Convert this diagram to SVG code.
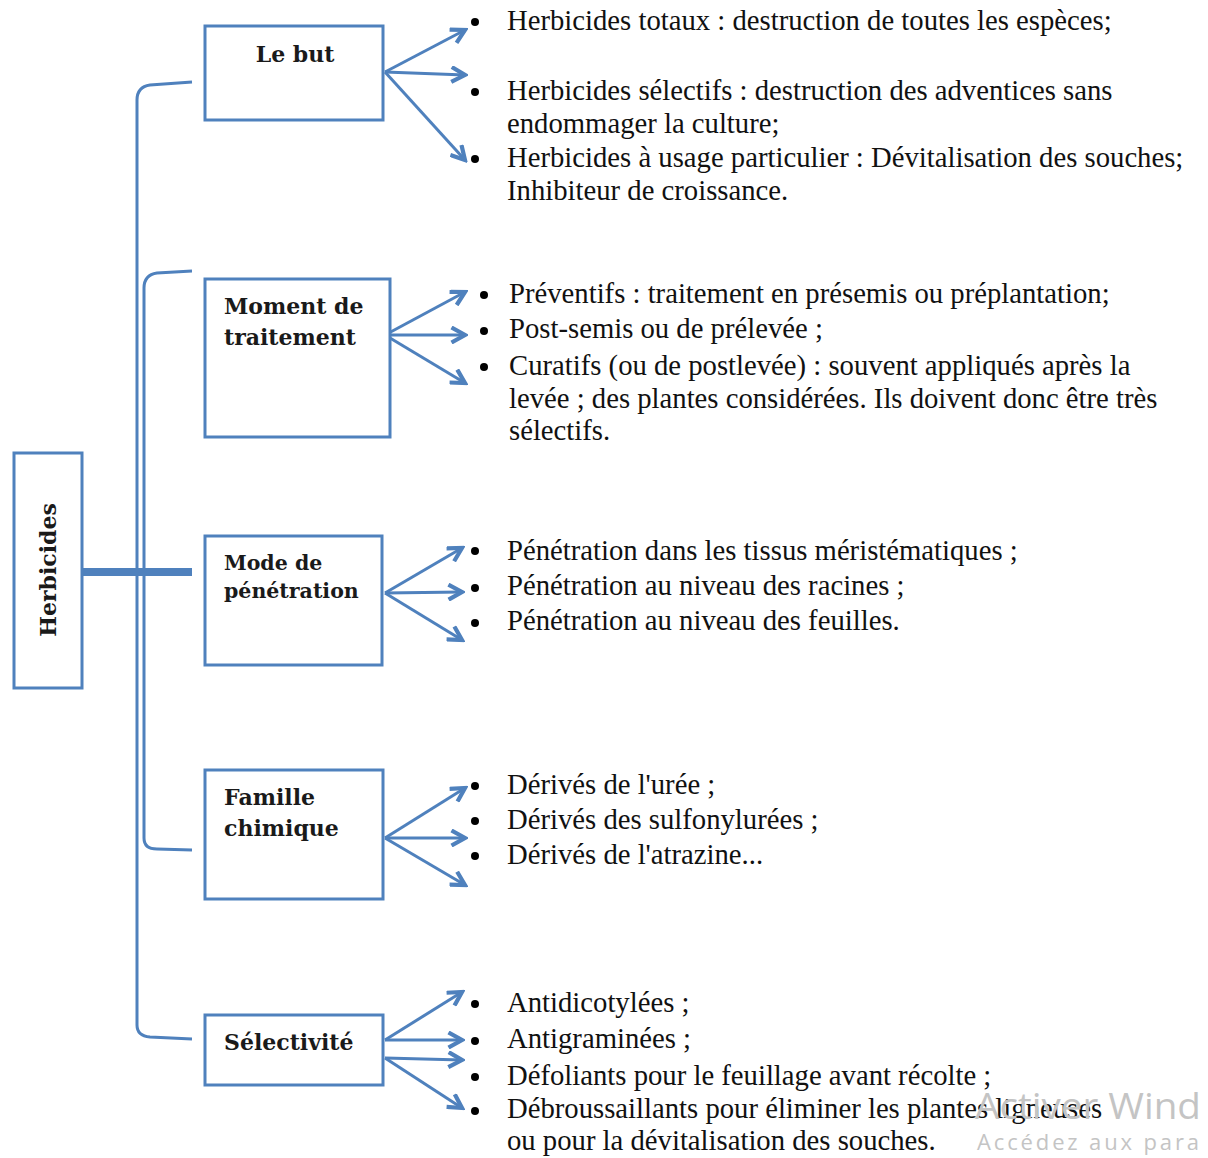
<svg xmlns="http://www.w3.org/2000/svg" width="1208" height="1158" viewBox="0 0 1208 1158">
<style>
.box{fill:#fff;stroke:#4f81bd;stroke-width:3}
.lbl{font-family:"DejaVu Serif",serif;font-weight:bold;font-size:22px;fill:#1a1a1a}
.sm{font-size:20.5px}
.it{font-family:"Liberation Serif",serif;font-size:28.7px;fill:#111}
.bul{fill:#000}
.con{fill:none;stroke:#4f81bd;stroke-width:3}
.arr{fill:none;stroke:#4f81bd;stroke-width:3;marker-end:url(#ah)}
.wm1{font-family:"Open Sans","Liberation Sans",sans-serif;font-size:37px;fill:#c4c4c4}
.wm2{font-family:"Open Sans","Liberation Sans",sans-serif;font-size:22px;fill:#c4c4c4}
</style>
<defs>
<marker id="ah" viewBox="0 0 12 12" refX="10" refY="6" markerWidth="6" markerHeight="6" markerUnits="strokeWidth" orient="auto">
<path d="M1,1 L10,6 L1,11" fill="none" stroke="#4f81bd" stroke-width="2.8"/>
</marker>
</defs>
<rect width="1208" height="1158" fill="#fff"/>
<g id="connectors">
<path class="con" d="M192,82 L150,85 Q137,87 137,100 L137,1025 Q137,1036 150,1037 L192,1039"/>
<path class="con" d="M192,271 L157,273 Q144,275 144,288 L144,838 Q144,849 157,849 L192,850"/>
<path d="M82,572 L192,572" stroke="#4f81bd" stroke-width="8"/>
<path class="arr" d="M385,72 L465,30"/>
<path class="arr" d="M385,72 L465,75"/>
<path class="arr" d="M385,72 L465,160"/>
<path class="arr" d="M385,335 L465,292"/>
<path class="arr" d="M385,335 L465,335"/>
<path class="arr" d="M385,335 L465,383"/>
<path class="arr" d="M385,593 L462,548"/>
<path class="arr" d="M385,593 L462,592"/>
<path class="arr" d="M385,593 L462,640"/>
<path class="arr" d="M385,838 L465,788"/>
<path class="arr" d="M385,838 L465,838"/>
<path class="arr" d="M385,838 L465,885"/>
<path class="arr" d="M385,1040 L462,992"/>
<path class="arr" d="M385,1040 L462,1040"/>
<path class="arr" d="M385,1058 L462,1060"/>
<path class="arr" d="M385,1058 L462,1108"/>
</g>
<g id="herbicides">
<rect class="box" x="14" y="453" width="68" height="235"/>
<text class="lbl" transform="translate(56,570) rotate(-90)" text-anchor="middle">Herbicides</text>
</g>
<g id="le-but">
<rect class="box" x="205" y="26" width="178" height="94"/>
<text class="lbl" x="295" y="62" text-anchor="middle">Le but</text>
</g>
<g id="moment">
<rect class="box" x="205" y="279" width="185" height="158"/>
<text class="lbl" x="224" y="314">Moment de</text>
<text class="lbl" x="224" y="345">traitement</text>
</g>
<g id="mode">
<rect class="box" x="205" y="536" width="177" height="129"/>
<text class="lbl sm" x="224" y="570">Mode de</text>
<text class="lbl sm" x="224" y="598">pénétration</text>
</g>
<g id="famille">
<rect class="box" x="205" y="770" width="178" height="129"/>
<text class="lbl" x="224" y="805">Famille</text>
<text class="lbl" x="224" y="836">chimique</text>
</g>
<g id="selectivite">
<rect class="box" x="205" y="1015" width="178" height="70"/>
<text class="lbl" x="224" y="1050">Sélectivité</text>
</g>
<g id="list-but">
<circle class="bul" cx="475" cy="22" r="4"/>
<circle class="bul" cx="475" cy="92" r="4"/>
<circle class="bul" cx="475" cy="159" r="4"/>
<text class="it" x="507" y="30">Herbicides totaux : destruction de toutes les espèces;</text>
<text class="it" x="507" y="100">Herbicides sélectifs : destruction des adventices sans</text>
<text class="it" x="507" y="133">endommager la culture;</text>
<text class="it" x="507" y="167">Herbicides à usage particulier : Dévitalisation des souches;</text>
<text class="it" x="507" y="200">Inhibiteur de croissance.</text>
</g>
<g id="list-moment">
<circle class="bul" cx="484" cy="295" r="4"/>
<circle class="bul" cx="484" cy="331" r="4"/>
<circle class="bul" cx="484" cy="367" r="4"/>
<text class="it" x="509" y="303">Préventifs : traitement en présemis ou préplantation;</text>
<text class="it" x="509" y="338">Post-semis ou de prélevée ;</text>
<text class="it" x="509" y="375">Curatifs (ou de postlevée) : souvent appliqués après la</text>
<text class="it" x="509" y="408">levée ; des plantes considérées. Ils doivent donc être très</text>
<text class="it" x="509" y="440">sélectifs.</text>
</g>
<g id="list-mode">
<circle class="bul" cx="475" cy="551" r="4"/>
<circle class="bul" cx="475" cy="588" r="4"/>
<circle class="bul" cx="475" cy="623" r="4"/>
<text class="it" x="507" y="560">Pénétration dans les tissus méristématiques ;</text>
<text class="it" x="507" y="595">Pénétration au niveau des racines ;</text>
<text class="it" x="507" y="630">Pénétration au niveau des feuilles.</text>
</g>
<g id="list-famille">
<circle class="bul" cx="475" cy="786" r="4"/>
<circle class="bul" cx="475" cy="821" r="4"/>
<circle class="bul" cx="475" cy="856" r="4"/>
<text class="it" x="507" y="794">Dérivés de l'urée ;</text>
<text class="it" x="507" y="829">Dérivés des sulfonylurées ;</text>
<text class="it" x="507" y="864">Dérivés de l'atrazine...</text>
</g>
<g id="list-selectivite">
<circle class="bul" cx="475" cy="1004" r="4"/>
<circle class="bul" cx="475" cy="1041" r="4"/>
<circle class="bul" cx="475" cy="1077" r="4"/>
<circle class="bul" cx="475" cy="1111" r="4"/>
<text class="it" x="507" y="1012">Antidicotylées ;</text>
<text class="it" x="507" y="1048">Antigraminées ;</text>
<text class="it" x="507" y="1085">Défoliants pour le feuillage avant récolte ;</text>
<text class="it" x="507" y="1118">Débroussaillants pour éliminer les plantes ligneuses</text>
<text class="it" x="507" y="1150">ou pour la dévitalisation des souches.</text>
</g>
<g id="watermark">
<text class="wm1" x="975" y="1119" textLength="226" lengthAdjust="spacingAndGlyphs">Activer Wind</text>
<text class="wm2" x="977" y="1150" textLength="222" lengthAdjust="spacing">Accédez aux para</text>
</g>
</svg>
